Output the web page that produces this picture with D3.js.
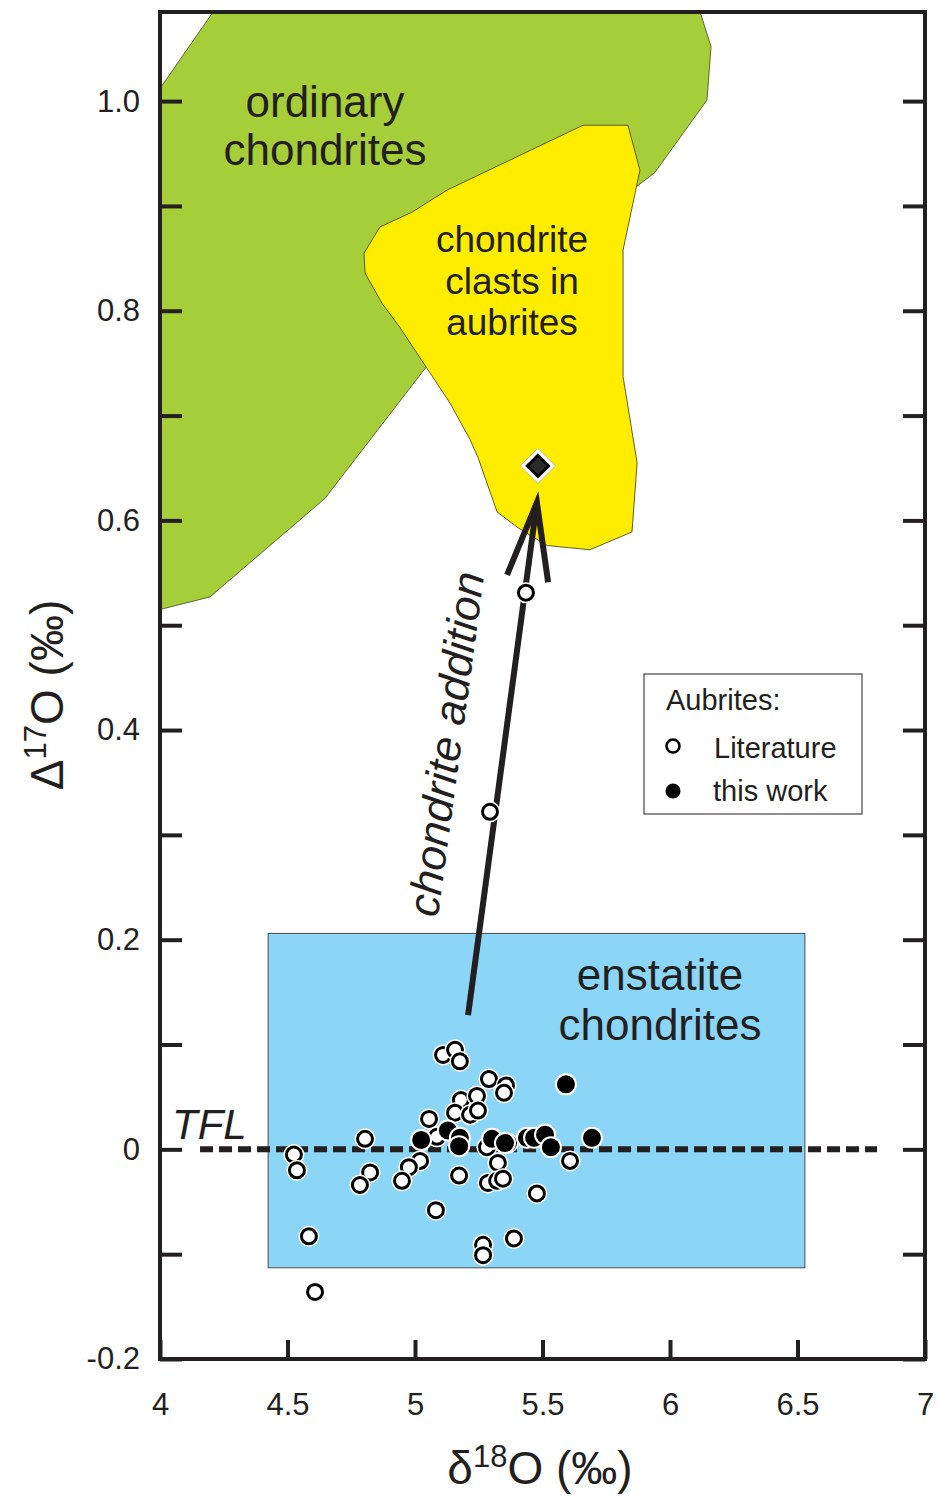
<!DOCTYPE html>
<html>
<head>
<meta charset="utf-8">
<script src="https://cdn.jsdelivr.net/npm/d3@7"></script>
<style>
  body { margin: 0; background: #fff; }
  svg text { font-family: "Liberation Sans", Arial, sans-serif; fill: #231f20; }
</style>
</head>
<body>
<svg id="chart" width="938" height="1496"></svg>
<script>
// ---- Axis ticks ----
const xTickValues = [4, 4.5, 5, 5.5, 6, 6.5, 7];
const xTickLabels = ["4", "4.5", "5", "5.5", "6", "6.5", "7"];
const yTickValues = [-0.2, -0.1, 0, 0.1, 0.2, 0.3, 0.4, 0.5, 0.6, 0.7, 0.8, 0.9, 1.0];
const yTickLabels = ["-0.2", "", "0", "", "0.2", "", "0.4", "", "0.6", "", "0.8", "", "1.0"];

// ---- Aubrites from the literature (δ18O, Δ17O) ----
const literatureX = [5.110, 5.157, 5.176, 5.290, 5.357, 5.349, 5.180, 5.243, 5.157, 5.216,
                     5.247, 5.055, 5.086, 4.804, 4.525, 4.537, 4.824, 4.784, 5.020, 4.976,
                     4.949, 5.173, 5.325, 5.286, 5.322, 5.345, 5.282, 5.365, 5.608, 5.478,
                     5.082, 4.584, 5.267, 5.267, 5.388, 4.608, 5.294, 5.435];
const literatureY = [0.090, 0.095, 0.084, 0.067, 0.061, 0.054, 0.047, 0.051, 0.035, 0.033,
                     0.037, 0.029, 0.012, 0.010, -0.005, -0.020, -0.022, -0.034, -0.011, -0.017,
                     -0.030, -0.025, -0.013, -0.032, -0.030, -0.028, 0.002, 0.006, -0.011, -0.042,
                     -0.058, -0.083, -0.091, -0.101, -0.085, -0.136, 0.322, 0.531];

// ---- Aubrites measured here ----
const thisWorkX = [5.024, 5.129, 5.176, 5.173, 5.302, 5.353, 5.439, 5.467, 5.510, 5.533, 5.592, 5.694];
const thisWorkY = [0.009, 0.018, 0.011, 0.003, 0.010, 0.006, 0.011, 0.011, 0.014, 0.002, 0.062, 0.011];

// ---- Chondrite clast mean ----
const clastMeanX = [5.482];
const clastMeanY = [0.652];

// ---- Fields ----
const ordinaryX = [4.000, 4.208, 6.118, 6.161, 6.145, 5.941, 5.824, 5.490, 5.216, 5.098, 5.027, 4.647, 4.196, 4.000];
const ordinaryY = [1.012, 1.085, 1.085, 1.052, 1.001, 0.932, 0.910, 0.867, 0.791, 0.763, 0.741, 0.621, 0.527, 0.515];

const clastFieldX = [5.659, 5.835, 5.882, 5.863, 5.816, 5.816, 5.871, 5.851, 5.686, 5.518, 5.404, 5.322,
                     5.247, 5.216, 5.137, 4.941, 4.871, 4.804, 4.800, 4.863, 4.988, 5.125];
const clastFieldY = [0.977, 0.977, 0.934, 0.912, 0.858, 0.737, 0.655, 0.589, 0.572, 0.576, 0.593, 0.608,
                     0.660, 0.677, 0.712, 0.784, 0.807, 0.836, 0.855, 0.880, 0.894, 0.915];

const enstatiteX = [4.424, 6.529];
const enstatiteY = [-0.113, 0.206];

// Terrestrial fractionation line
const tflX = [4.157, 6.812];
const tflY = [0, 0];

// Mixing arrow
const arrowX = [5.208, 5.478];
const arrowY = [0.128, 0.617];
const arrowHeadX = [5.361, 5.478, 5.522];
const arrowHeadY = [0.548, 0.617, 0.541];

// ---- Chart ----
const ink = "#231f20";
const svg = d3.select("#chart");
const x = d3.scaleLinear().domain([4, 7]).range([160, 925]);
const y = d3.scaleLinear().domain([-0.2, 1.085]).range([1359, 12]);

const defs = svg.append("defs");
defs.append("clipPath").attr("id", "plotClip")
  .append("rect").attr("x", x(4)).attr("y", y(1.085))
  .attr("width", x(7) - x(4)).attr("height", y(-0.2) - y(1.085));

const plot = svg.append("g").attr("clip-path", "url(#plotClip)");
const line = d3.line().x(d => x(d[0])).y(d => y(d[1]));

// ordinary chondrites field
plot.append("path")
  .datum(d3.zip(ordinaryX, ordinaryY))
  .attr("d", d => line(d) + "Z")
  .attr("fill", "#a6ce39").attr("stroke", "#3d4a1c").attr("stroke-width", 0.8);

// chondrite clasts field
plot.append("path")
  .datum(d3.zip(clastFieldX, clastFieldY))
  .attr("d", d => line(d) + "Z")
  .attr("fill", "#ffed00").attr("stroke", "#3a3a10").attr("stroke-width", 0.8);

// enstatite chondrites box
plot.append("rect")
  .attr("x", x(enstatiteX[0])).attr("y", y(enstatiteY[1]))
  .attr("width", x(enstatiteX[1]) - x(enstatiteX[0]))
  .attr("height", y(enstatiteY[0]) - y(enstatiteY[1]))
  .attr("fill", "#8bd5f6").attr("stroke", "#4a4a4a").attr("stroke-width", 1);

// field labels
function multiline(lines, cx, y0, dy, size) {
  const t = svg.append("text").attr("text-anchor", "middle").attr("font-size", size);
  lines.forEach((s, i) => t.append("tspan").attr("x", cx).attr("y", y0 + i * dy).text(s));
}
multiline(["ordinary", "chondrites"], 325, 117, 48, 44);
multiline(["chondrite", "clasts in", "aubrites"], 512, 252, 41.5, 37);
multiline(["enstatite", "chondrites"], 660, 990, 50, 44);

// TFL
svg.append("path")
  .datum(d3.zip(tflX, tflY))
  .attr("d", line)
  .attr("stroke", ink).attr("stroke-width", 6).attr("stroke-dasharray", "13 6").attr("fill", "none");
svg.append("text").attr("x", 172).attr("y", 1139)
  .attr("font-size", 42).attr("font-style", "italic").text("TFL");

// mixing arrow
svg.append("path")
  .datum(d3.zip(arrowX, arrowY))
  .attr("d", line)
  .attr("stroke", ink).attr("stroke-width", 6).attr("fill", "none");
svg.append("path")
  .datum(d3.zip(arrowHeadX, arrowHeadY))
  .attr("d", line)
  .attr("stroke", ink).attr("stroke-width", 6).attr("fill", "none")
  .attr("stroke-linejoin", "miter");
svg.append("text")
  .attr("transform", "translate(461,746) rotate(-82.3)")
  .attr("text-anchor", "middle").attr("font-size", 44).attr("font-style", "italic")
  .text("chondrite addition");

// literature aubrites: open circles with a white halo
const lit = svg.append("g");
d3.zip(literatureX, literatureY).forEach(d => {
  lit.append("circle").attr("cx", x(d[0])).attr("cy", y(d[1])).attr("r", 10.5).attr("fill", "#fff");
  lit.append("circle").attr("cx", x(d[0])).attr("cy", y(d[1])).attr("r", 7.5)
    .attr("fill", "#fff").attr("stroke", "#000").attr("stroke-width", 3);
});

// this work: filled circles
svg.append("g").selectAll("circle")
  .data(d3.zip(thisWorkX, thisWorkY)).join("circle")
  .attr("cx", d => x(d[0])).attr("cy", d => y(d[1])).attr("r", 10)
  .attr("fill", "#000").attr("stroke", "#fff").attr("stroke-width", 2);

// chondrite clast mean: diamond
const sq = d3.symbol(d3.symbolSquare);
d3.zip(clastMeanX, clastMeanY).forEach(d => {
  const g = svg.append("g").attr("transform", `translate(${x(d[0])},${y(d[1])}) rotate(45)`);
  g.append("path").attr("d", sq.size(620)()).attr("fill", "#fff").attr("stroke", "#999").attr("stroke-width", 0.6);
  g.append("path").attr("d", sq.size(225)()).attr("fill", "#2b2b2b").attr("stroke", "#000").attr("stroke-width", 3);
});

// legend
const lg = svg.append("g");
lg.append("rect").attr("x", 644).attr("y", 674).attr("width", 218).attr("height", 140)
  .attr("fill", "#fff").attr("stroke", ink).attr("stroke-width", 1);
lg.append("text").attr("x", 666).attr("y", 710).attr("font-size", 29).text("Aubrites:");
lg.append("circle").attr("cx", 673).attr("cy", 746).attr("r", 6.5)
  .attr("fill", "#fff").attr("stroke", "#000").attr("stroke-width", 2.6);
lg.append("text").attr("x", 714).attr("y", 758).attr("font-size", 29).text("Literature");
lg.append("circle").attr("cx", 673).attr("cy", 791).attr("r", 7.5).attr("fill", "#000");
lg.append("text").attr("x", 713).attr("y", 801).attr("font-size", 29).text("this work");

// axes
const fmtY = d3.scaleOrdinal().domain(yTickValues).range(yTickLabels);
const fmtX = d3.scaleOrdinal().domain(xTickValues).range(xTickLabels);

const axL = svg.append("g").attr("transform", `translate(${x(4)},0)`)
  .call(d3.axisLeft(y).tickValues(yTickValues).tickFormat(fmtY).tickSizeInner(-22).tickSizeOuter(0).tickPadding(20));
const axR = svg.append("g").attr("transform", `translate(${x(7)},0)`)
  .call(d3.axisRight(y).tickValues(yTickValues).tickFormat("").tickSizeInner(-22).tickSizeOuter(0));
const axB = svg.append("g").attr("transform", `translate(0,${y(-0.2)})`)
  .call(d3.axisBottom(x).tickValues(xTickValues).tickFormat(fmtX).tickSizeInner(-19).tickSizeOuter(0).tickPadding(34));

[axL, axR, axB].forEach(a => {
  a.select(".domain").remove();
  a.selectAll(".tick line").attr("stroke", ink).attr("stroke-width", 4);
  a.selectAll(".tick text").attr("font-size", 31).attr("fill", ink)
    .attr("font-family", "Liberation Sans, Arial, sans-serif");
});

// plot frame
svg.append("rect")
  .attr("x", x(4)).attr("y", y(1.085))
  .attr("width", x(7) - x(4)).attr("height", y(-0.2) - y(1.085))
  .attr("fill", "none").attr("stroke", ink).attr("stroke-width", 4);

// axis titles
const xt = svg.append("text").attr("x", 540).attr("y", 1484).attr("text-anchor", "middle").attr("font-size", 46);
xt.append("tspan").text("δ");
xt.append("tspan").attr("font-size", 31).attr("dy", -17).text("18");
xt.append("tspan").attr("dy", 17).text("O (‰)");

const yt = svg.append("text").attr("transform", "translate(63,695) rotate(-90)")
  .attr("text-anchor", "middle").attr("font-size", 46);
yt.append("tspan").text("Δ");
yt.append("tspan").attr("font-size", 31).attr("dy", -17).text("17");
yt.append("tspan").attr("dy", 17).text("O (‰)");
</script>
</body>
</html>
